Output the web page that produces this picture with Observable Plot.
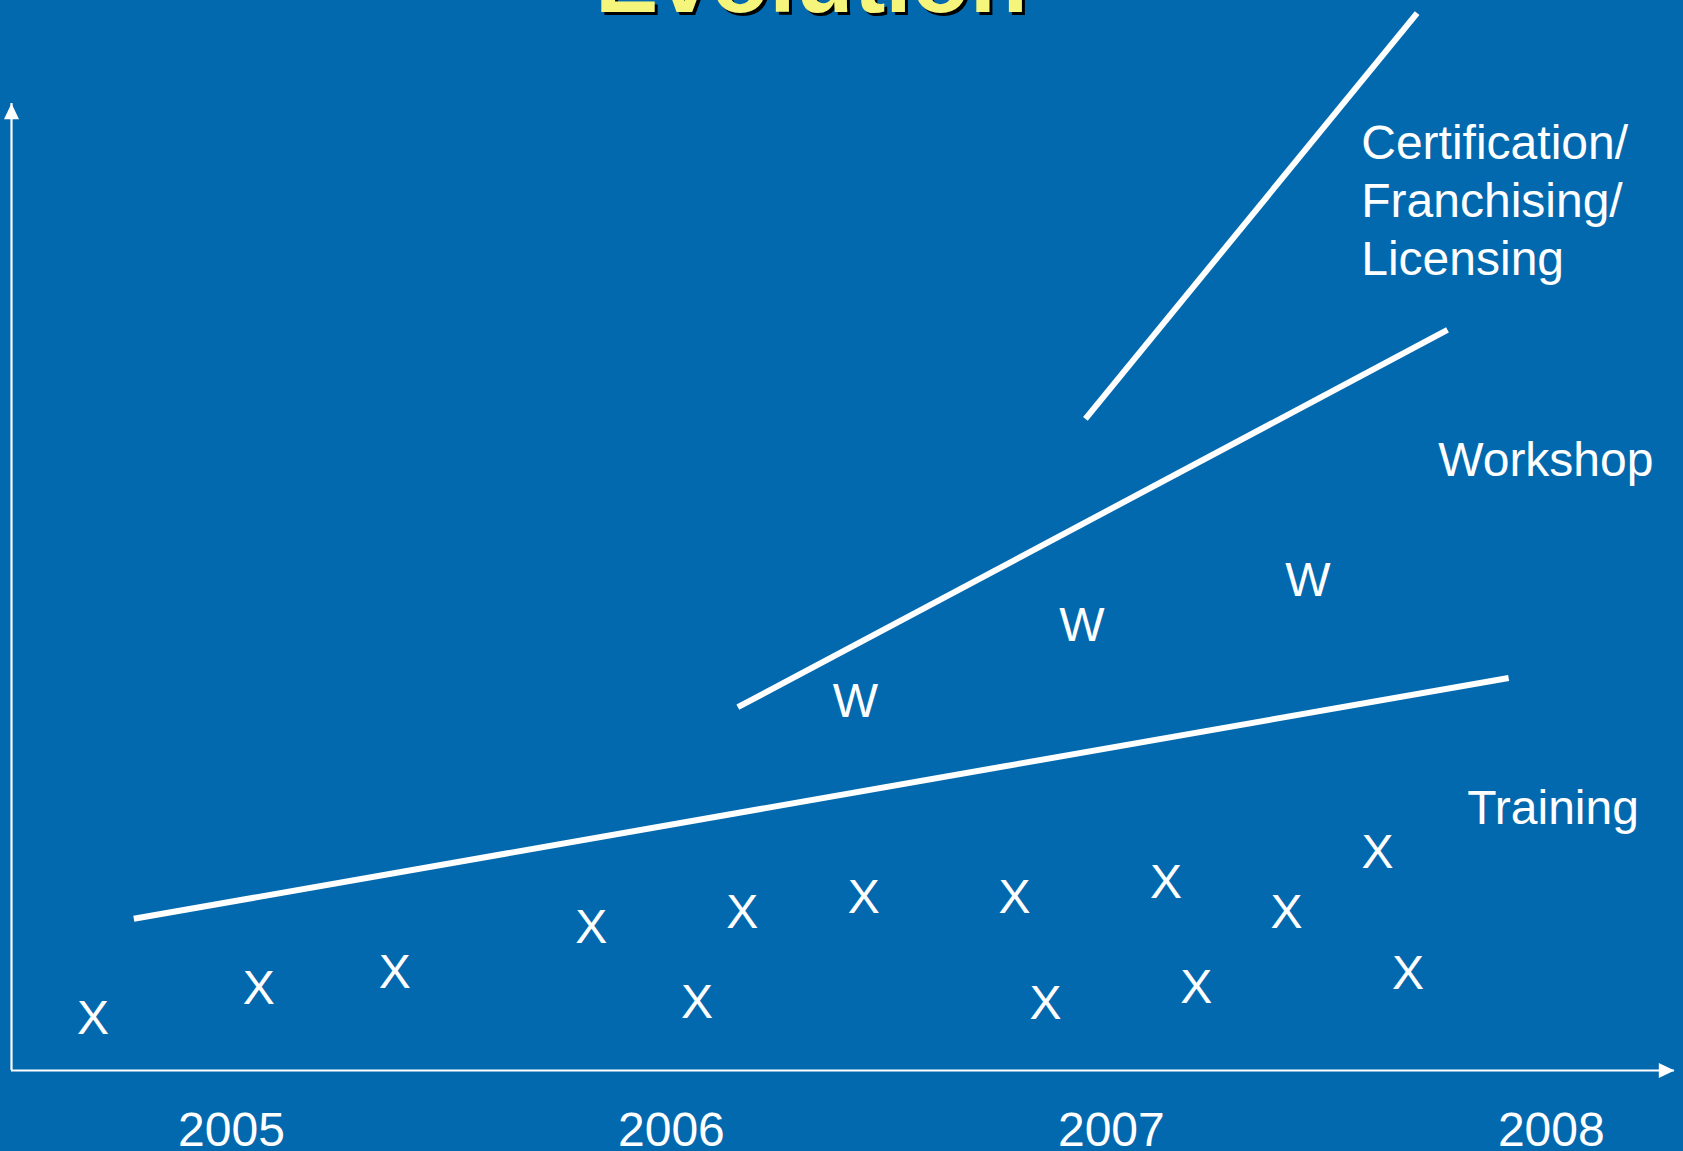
<!DOCTYPE html>
<html>
<head>
<meta charset="utf-8">
<script src="https://cdn.jsdelivr.net/npm/d3@7"></script>
<script src="https://cdn.jsdelivr.net/npm/@observablehq/plot@0.6"></script>
<style>
  html, body { margin: 0; padding: 0; background: #0369AF; }
  #page { position: relative; width: 1683px; height: 1151px; overflow: hidden; background: #0369AF; }
  #title {
    position: absolute; left: 595px; top: -68px; margin: 0;
    font: 700 95px/95px "Liberation Sans", Arial, sans-serif;
    color: #F5F57C; text-shadow: 3px 3px 0 #000; white-space: nowrap;
  }
  #chart svg { display: block; }
</style>
</head>
<body>
<div id="page">
  <div id="chart"></div>
  <h1 id="title">Evolution</h1>
</div>
<script>
// Year ticks on the time axis
const years = [2005, 2006, 2007, 2008];

// Growth trend lines (year, level)
const trainingTrend = [
  {year: 2004.778, level: 15.69},
  {year: 2007.903, level: 40.59}
];
const workshopTrend = [
  {year: 2006.151, level: 37.57},
  {year: 2007.764, level: 76.58}
];
const certificationTrend = [
  {year: 2006.941, level: 67.39},
  {year: 2007.695, level: 109.34}
];

// Individual training events ("X")
const trainingYears  = [2004.685, 2005.062, 2005.371, 2005.818, 2006.058, 2006.161, 2006.437,
                        2006.780, 2006.850, 2007.124, 2007.193, 2007.398, 2007.605, 2007.674];
const trainingLevels = [5.35, 8.51, 10.10, 14.76, 7.00, 16.31, 17.86,
                        17.86, 6.96, 19.47, 8.55, 16.31, 22.57, 10.06];

// Individual workshops ("W")
const workshopYears  = [2006.418, 2006.933, 2007.447];
const workshopLevels = [38.18, 46.05, 50.70];

// Stage labels
const stageNames  = ["Certification/\nFranchising/\nLicensing", "Workshop", "Training"];
const stageYears  = [2007.568, 2007.743, 2007.809];
const stageLevels = [98.45, 65.66, 29.73];

const xDomain = [2004.5, 2008.28];
const yDomain = [0, 100];

const training = trainingYears.map((year, i) => ({year, level: trainingLevels[i], mark: "X"}));
const workshops = workshopYears.map((year, i) => ({year, level: workshopLevels[i], mark: "W"}));
const stages = stageNames.map((name, i) => ({name, year: stageYears[i], level: stageLevels[i]}));

// Filled arrowheads for the axis ends, tip at the anchor point
const arrowUp = {
  draw(ctx, size) {
    const s = Math.sqrt(size / Math.PI);
    ctx.moveTo(0, 0); ctx.lineTo(-0.48 * s, s); ctx.lineTo(0.48 * s, s); ctx.closePath();
  }
};
const arrowRight = {
  draw(ctx, size) {
    const s = Math.sqrt(size / Math.PI);
    ctx.moveTo(0, 0); ctx.lineTo(-s, -0.48 * s); ctx.lineTo(-s, 0.48 * s); ctx.closePath();
  }
};

const font = "'Liberation Sans', Arial, sans-serif";
const lineStyle = {x: "year", y: "level", stroke: "white", strokeWidth: 6, strokeLinecap: "butt"};

const chart = Plot.plot({
  width: 1683,
  height: 1151,
  marginTop: 103,
  marginRight: 9,
  marginBottom: 81,
  marginLeft: 11,
  x: {domain: xDomain, label: null},
  y: {domain: yDomain, axis: null},
  style: {background: "#0369AF", color: "white", fontFamily: font, overflow: "visible"},
  marks: [
    Plot.ruleY([yDomain[0]], {stroke: "white", strokeWidth: 2.2}),
    Plot.ruleX([xDomain[0]], {stroke: "white", strokeWidth: 2.2}),
    Plot.dot([{x: xDomain[0], y: yDomain[1]}], {x: "x", y: "y", symbol: arrowUp, r: 15.7, fill: "white", stroke: null}),
    Plot.dot([{x: xDomain[1], y: yDomain[0]}], {x: "x", y: "y", symbol: arrowRight, r: 15.7, fill: "white", stroke: null}),
    Plot.axisX(years, {
      anchor: "bottom", tickSize: 0, tickPadding: 41, fontSize: 48,
      tickFormat: d => String(d), fill: "white", label: null
    }),
    Plot.line(trainingTrend, lineStyle),
    Plot.line(workshopTrend, lineStyle),
    Plot.line(certificationTrend, lineStyle),
    Plot.text(training, {x: "year", y: "level", text: "mark", fontSize: 48, fill: "white"}),
    Plot.text(workshops, {x: "year", y: "level", text: "mark", fontSize: 48, fill: "white"}),
    Plot.text(stages, {
      x: "year", y: "level", text: "name", fontSize: 48, lineHeight: 1.2,
      textAnchor: "start", lineAnchor: "top", fill: "white"
    })
  ]
});

document.getElementById("chart").appendChild(chart);
</script>
</body>
</html>
